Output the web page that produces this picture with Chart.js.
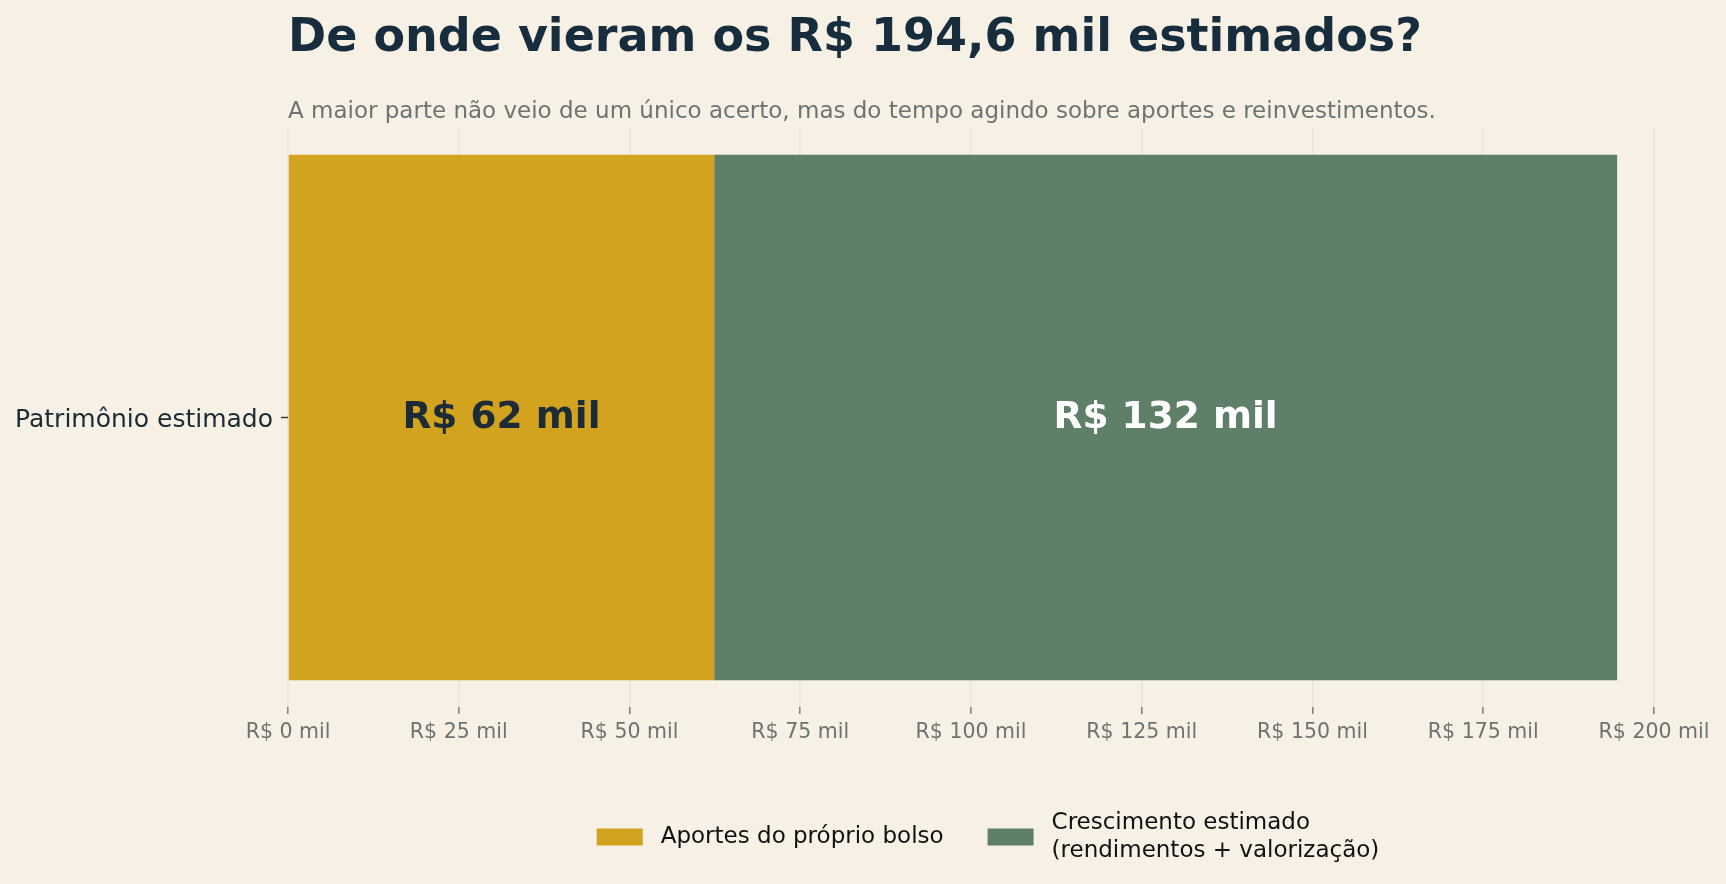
<!DOCTYPE html>
<html lang="pt-BR">
<head>
<meta charset="utf-8">
<title>De onde vieram os R$ 194,6 mil estimados?</title>
<script src="https://cdn.jsdelivr.net/npm/chart.js@4.4.1/dist/chart.umd.min.js"></script>
<style>
  html, body { margin: 0; padding: 0; background: #f6f0e5; }
  #wrap { width: 1726px; height: 884px; }
</style>
</head>
<body>
<div id="wrap"><canvas id="chart" width="1726" height="884"></canvas></div>
<script>
// data (R$ mil)
const categories = ['Patrimônio estimado'];
const aportes = [62.4];
const crescimento = [132.2];
const seriesNames = [
  ['Aportes do próprio bolso'],
  ['Crescimento estimado', '(rendimentos + valorização)']
];
const seriesColors = ['#d1a31e', '#5f7f68'];
const labelColors = ['#1c2b36', '#ffffff'];
const xMin = 0, xMax = 200, xStep = 25;

const titleText = 'De onde vieram os R$ 194,6 mil estimados?';
const subtitleText = 'A maior parte não veio de um único acerto, mas do tempo agindo sobre aportes e reinvestimentos.';

const FONT = '"DejaVu Sans", "Noto Sans", sans-serif';

// title + subtitle aligned with the plot's left edge
const headerPlugin = {
  id: 'header',
  afterDraw(chart) {
    const { ctx, chartArea } = chart;
    ctx.save();
    ctx.textAlign = 'left';
    ctx.textBaseline = 'alphabetic';
    ctx.fillStyle = '#172d3d';
    ctx.font = 'bold 46px ' + FONT;
    ctx.fillText(titleText, chartArea.left, 51);
    ctx.fillStyle = '#6e7372';
    ctx.font = '23px ' + FONT;
    ctx.fillText(subtitleText, chartArea.left, 118);
    ctx.restore();
  }
};

// value labels centred in each bar segment
const valueLabelPlugin = {
  id: 'valueLabels',
  afterDraw(chart) {
    const { ctx } = chart;
    ctx.save();
    ctx.font = 'bold 37.5px ' + FONT;
    ctx.textAlign = 'center';
    ctx.textBaseline = 'middle';
    chart.data.datasets.forEach((ds, i) => {
      chart.getDatasetMeta(i).data.forEach((bar, j) => {
        const cx = (bar.x + bar.base) / 2;
        ctx.fillStyle = labelColors[i];
        ctx.fillText('R$ ' + Math.round(ds.data[j]) + ' mil', cx, bar.y + 1);
      });
    });
    ctx.restore();
  }
};

// legend under the axis, supports two-line labels
const legendPlugin = {
  id: 'bottomLegend',
  afterDraw(chart) {
    const { ctx, chartArea } = chart;
    const boxW = 46, boxH = 17, boxGap = 18, itemGap = 44, lineH = 28;
    ctx.save();
    ctx.font = '23px ' + FONT;
    const items = chart.data.datasets.map((ds, i) => {
      const lines = seriesNames[i];
      const w = Math.max(...lines.map(l => ctx.measureText(l).width));
      return { lines, w, color: ds.backgroundColor };
    });
    let total = items.reduce((s, it) => s + boxW + boxGap + it.w, 0) + itemGap * (items.length - 1);
    let x = (chartArea.left + chartArea.right) / 2 + 17 - total / 2;
    const cy = 837;
    items.forEach(it => {
      ctx.fillStyle = it.color;
      ctx.fillRect(x, cy - boxH / 2, boxW, boxH);
      ctx.fillStyle = '#111111';
      ctx.textAlign = 'left';
      ctx.textBaseline = 'middle';
      const y0 = cy - (it.lines.length - 1) * lineH / 2;
      it.lines.forEach((l, k) => ctx.fillText(l, x + boxW + boxGap, y0 + k * lineH));
      x += boxW + boxGap + it.w + itemGap;
    });
    ctx.restore();
  }
};

new Chart(document.getElementById('chart'), {
  type: 'bar',
  data: {
    labels: categories,
    datasets: [
      { label: seriesNames[0].join(' '), data: aportes, backgroundColor: seriesColors[0] },
      { label: seriesNames[1].join(' '), data: crescimento, backgroundColor: seriesColors[1] }
    ]
  },
  options: {
    indexAxis: 'y',
    responsive: false,
    animation: false,
    devicePixelRatio: 1,
    layout: { padding: { top: 128, right: 72, bottom: 117, left: 0 } },
    datasets: { bar: { categoryPercentage: 1, barPercentage: 0.908 } },
    plugins: { legend: { display: false }, tooltip: { enabled: false } },
    scales: {
      x: {
        stacked: true,
        min: xMin,
        max: xMax,
        z: 1,
        border: { display: false },
        grid: {
          color: 'rgba(175,170,162,0.16)',
          lineWidth: 1.6,
          tickLength: 7,
          tickColor: '#777777',
          tickWidth: 1.4
        },
        ticks: {
          stepSize: xStep,
          padding: 6,
          color: '#6e7372',
          font: { family: FONT, size: 20.5 },
          callback: v => 'R$ ' + v + ' mil'
        },
        afterFit: s => { s.height = 60; }
      },
      y: {
        stacked: true,
        border: { display: false },
        grid: {
          offset: false,
          drawOnChartArea: false,
          tickLength: 7,
          tickColor: '#333333',
          tickWidth: 1.4
        },
        ticks: {
          padding: 8,
          labelOffset: 3,
          color: '#1b2b36',
          font: { family: FONT, size: 25 }
        },
        afterFit: s => { s.width = 288; }
      }
    }
  },
  plugins: [headerPlugin, valueLabelPlugin, legendPlugin]
});
</script>
</body>
</html>
